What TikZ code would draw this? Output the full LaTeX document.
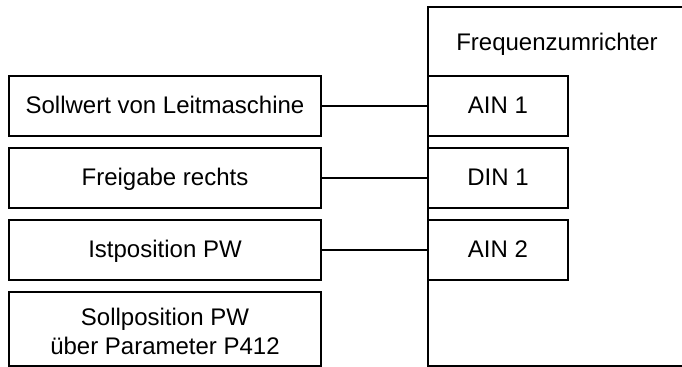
\documentclass[tikz,border=0pt]{standalone}
\usepackage{fontspec}
\setmainfont{Liberation Sans}
\usepackage{tikz}
\usetikzlibrary{positioning}

\begin{document}
\begin{tikzpicture}[x=0.5pt, y=-0.5pt, line width=1pt,
  font=\fontsize{12}{14.5}\selectfont,
  every node/.style={text height=0.9em, text depth=0.184em},
  sigbox/.style={draw, fill=white, minimum width=156pt, minimum height=30pt, inner sep=0pt, align=center},
  pinbox/.style={draw, fill=white, minimum width=70pt, minimum height=30pt, inner sep=0pt}]
\clip (0,0) rectangle (682,367);
% converter
\node[draw, minimum width=136pt, minimum height=179.5pt, inner sep=0pt] (fu) at (564,186.5) {};
\node (futitle) at (557,43) {Frequenzumrichter};
% signals
\node[sigbox] (sollwert) at (165,106) {Sollwert von Leitmaschine};
\node[sigbox] (freigabe) at (165,178) {Freigabe rechts};
\node[sigbox] (istpos) at (165,250) {Istposition PW};
\node[sigbox, minimum height=37pt, text height=, text depth=] (sollpos) at (165,329)
  {\rule{0pt}{10.8pt}Sollposition PW\\über Parameter P412};
% inputs
\node[pinbox] (ain1) at (498,106) {AIN 1};
\node[pinbox] (din1) at (498,178) {DIN 1};
\node[pinbox] (ain2) at (498,250) {AIN 2};
% wiring
\draw (sollwert.east) -- (ain1.west);
\draw (freigabe.east) -- (din1.west);
\draw (istpos.east) -- (ain2.west);
\end{tikzpicture}
\end{document}
